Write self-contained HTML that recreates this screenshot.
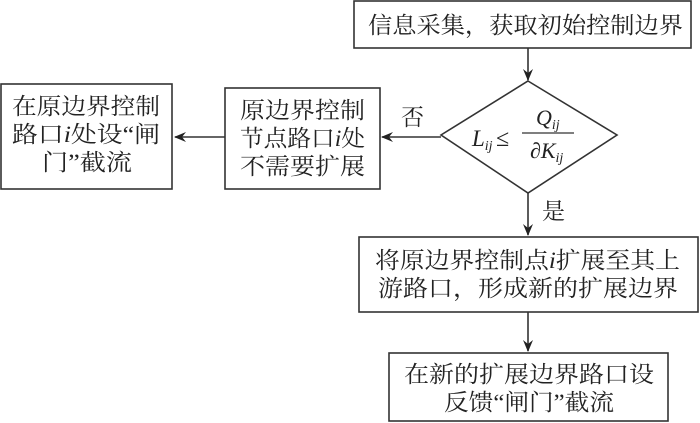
<!DOCTYPE html>
<html><head><meta charset="utf-8"><style>
html,body{margin:0;padding:0;background:#fff;}
svg{display:block;}
text{font-family:"Liberation Serif","Noto Serif CJK SC",serif;font-size:23px;fill:#222;}
.m{font-family:"Liberation Serif",serif;font-style:italic;}
</style></head><body>
<svg width="700" height="423" viewBox="0 0 700 423" xmlns="http://www.w3.org/2000/svg">
<defs><marker id="a" markerWidth="12" markerHeight="10" refX="11" refY="5" orient="auto" markerUnits="userSpaceOnUse"><path d="M0,0 L12,5 L0,10 L4,5 Z" fill="#222"/></marker></defs>
<g fill="none" stroke="#333" stroke-width="1.6">
<rect x="354" y="1" width="337" height="47"/>
<rect x="225" y="88" width="155" height="101"/>
<rect x="1" y="84" width="171" height="105"/>
<rect x="359" y="237" width="339" height="75"/>
<rect x="389" y="353" width="279" height="68"/>
<polygon points="528,81 617,135 528,193 441,135"/>
<line x1="528" y1="48" x2="528" y2="80" marker-end="url(#a)"/>
<line x1="441" y1="137" x2="382" y2="137" marker-end="url(#a)"/>
<line x1="225" y1="137" x2="175" y2="137" marker-end="url(#a)"/>
<line x1="528" y1="193" x2="528" y2="235" marker-end="url(#a)"/>
<line x1="528" y1="312" x2="528" y2="351" marker-end="url(#a)"/>
<line x1="522" y1="133" x2="574" y2="133" stroke-width="1.3"/>
</g>
<text x="368" y="33" textLength="315" lengthAdjust="spacingAndGlyphs">信息采集，获取初始控制边界</text>
<text x="240" y="118" textLength="125" lengthAdjust="spacingAndGlyphs">原边界控制</text>
<text x="240" y="146" textLength="125" lengthAdjust="spacingAndGlyphs">节点路口<tspan class="m">i</tspan>处</text>
<text x="240" y="174" textLength="125" lengthAdjust="spacingAndGlyphs">不需要扩展</text>
<text x="12" y="114" textLength="148" lengthAdjust="spacingAndGlyphs">在原边界控制</text>
<text x="12" y="142" textLength="148" lengthAdjust="spacingAndGlyphs">路口<tspan class="m">i</tspan>处设“闸</text>
<text x="42" y="170" textLength="90" lengthAdjust="spacingAndGlyphs">门”截流</text>
<text x="401" y="125">否</text>
<text x="542" y="219">是</text>
<text class="m" x="472" y="146" style="font-size:23px">L<tspan style="font-size:14px" dy="4">ij</tspan></text>
<text x="496" y="146" style="font-size:24px">≤</text>
<text class="m" x="536" y="125" style="font-size:22px">Q<tspan style="font-size:14px" dy="4">ij</tspan></text>
<text class="m" x="530" y="158" style="font-size:22px">∂K<tspan style="font-size:14px" dy="4">ij</tspan></text>
<text x="375" y="268" textLength="305" lengthAdjust="spacingAndGlyphs">将原边界控制点<tspan class="m">i</tspan>扩展至其上</text>
<text x="378" y="296" textLength="300" lengthAdjust="spacingAndGlyphs">游路口，形成新的扩展边界</text>
<text x="404" y="382" textLength="250" lengthAdjust="spacingAndGlyphs">在新的扩展边界路口设</text>
<text x="444" y="410" textLength="170" lengthAdjust="spacingAndGlyphs">反馈“闸门”截流</text>
</svg>
</body></html>
